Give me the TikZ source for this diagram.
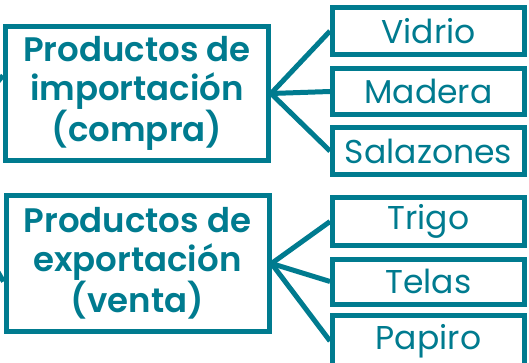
\documentclass[tikz,border=0pt]{standalone}
\usepackage{fontspec}
\setmainfont{Poppins}[BoldFont={Poppins SemiBold}]
\usepackage{tikz}
\usetikzlibrary{arrows,shapes,positioning}
\usepackage{xcolor}
\definecolor{prteal}{RGB}{0,123,143}
\tikzstyle{link} = [line width=5pt, color=prteal]
\tikzstyle{grupo} = [rectangle, line width=5pt, draw=prteal, text=prteal, inner sep=0pt, minimum width=263pt, minimum height=134pt, align=center, font=\bfseries\fontsize{34}{38.5}\selectfont]
\tikzstyle{producto} = [rectangle, line width=5pt, draw=prteal, text=prteal, inner sep=0pt, minimum width=192pt, minimum height=47pt, text centered, font=\fontsize{33}{36}\selectfont]

\begin{document}
\begin{tikzpicture}[x=1pt, y=-1pt]
\useasboundingbox (0,0) rectangle (529,363);

% Import products
\node (importacion) [grupo] at (137,93.5) {Productos de\\importación\\(compra)};
\node (vidrio) [producto] at (428.5,31) {Vidrio};
\node (madera) [producto, minimum height=46pt, below=9pt of vidrio] {Madera};
\node (salazones) [producto, below=8pt of madera] {Salazones};

% Export products
\node (exportacion) [grupo, minimum height=136pt] at (137.5,263.5) {Productos de\\exportación\\(venta)};
\node (trigo) [producto] at (428.5,221.5) {Trigo};
\node (telas) [producto, minimum height=45pt, below=9pt of trigo] {Telas};
\node (papiro) [producto, minimum height=52pt, below=6pt of telas] {Papiro};

% fan to the right
\foreach \item in {vidrio,madera,salazones}
  \draw[link] (importacion.east) -- (\item.west);
\foreach \item in {trigo,telas,papiro}
  \draw[link] (exportacion.east) -- (\item.west);

% links from the left, cut by the frame
\coordinate (origen) at (-68,160);
\draw[link] (origen) -- ([yshift=18pt]importacion.west);
\draw[link] (origen) -- ([yshift=-18pt]exportacion.west);
\end{tikzpicture}
\end{document}
